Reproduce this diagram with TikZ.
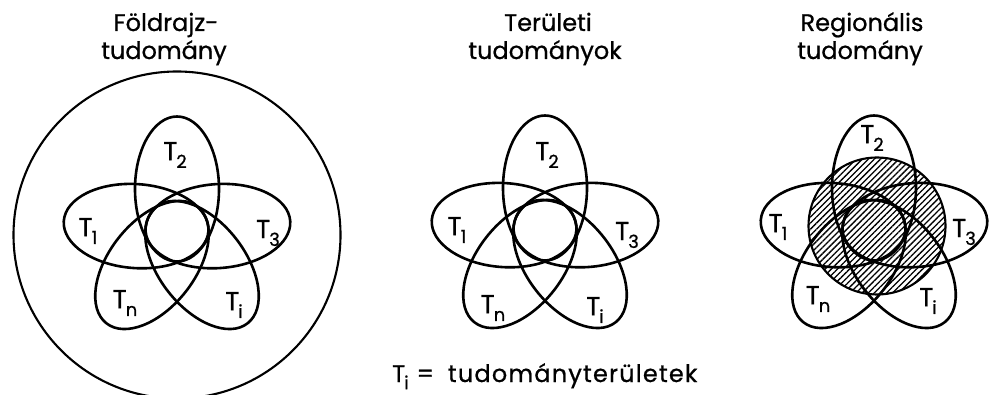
\documentclass[tikz,border=0pt]{standalone}
\usepackage{fontspec}
\setmainfont{Poppins}[FakeBold=0.8]
\newfontfamily\legfont{Poppins}[FakeBold=0.8,LetterSpace=5]
\usetikzlibrary{patterns.meta}
\newcommand\Tsub[1]{T\kern-1pt\raisebox{-0.30em}{\fontsize{18}{18}\selectfont #1}}
\begin{document}
\begin{tikzpicture}[x=1pt,y=-1pt,
  petal/.style={line width=2.6pt},
  ring/.style={line width=2.1pt},
  title/.style={font=\fontsize{24}{24}\selectfont, anchor=base, inner sep=0pt},
  lab/.style={font=\fontsize{26}{26}\selectfont, inner sep=0pt},
  hatch/.style={pattern={Lines[angle=45,distance=4.3pt,line width=1.3pt]}},
  flower/.pic={
    \draw[petal] (0,-40) ellipse [x radius=42, y radius=72.5];
    \draw[petal,rotate around={-4:(-40.9,-2.9)}] (-40.9,-2.9) ellipse [x radius=72.5, y radius=42];
    \draw[petal,rotate around={4:(40.9,-2.9)}] (40.9,-2.9) ellipse [x radius=72.5, y radius=42];
    \draw[petal,rotate around={-52:(25,36)}] (25,36) ellipse [x radius=74, y radius=43];
    \draw[petal,rotate around={52:(-25,36)}] (-25,36) ellipse [x radius=74, y radius=43];
  }]
\useasboundingbox (0,0) rectangle (993,395);
\fill[white] (0,0) rectangle (993,395);
\clip (0,0) rectangle (993,395);

% left panel
\draw[ring] (177,235) circle [radius=163.5];
\pic at (177,229) {flower};
% middle panel
\pic at (545,228) {flower};
% right panel
\fill[hatch] (877,226) circle [radius=68.5];
\draw[ring] (877,226) circle [radius=68.5];
\pic at (874,228) {flower};

% titles
\node[title] (t1a) at (166,31) {Földrajz-};
\node[title] (t1b) at (164,59) {tudomány};
\node[title] (t2a) at (548,31) {Területi};
\node[title] (t2b) at (545,59) {tudományok};
\node[title] (t3a) at (862,31) {Regionális};
\node[title] (t3b) at (860,59) {tudomány};

% labels left
\node[lab] (l2) at (175,155) {\Tsub{2}};
\node[lab] (l1) at (88,231) {\Tsub{1}};
\node[lab] (l3) at (268,233) {\Tsub{3}};
\node[lab] (ln) at (125,303) {\Tsub{n}};
\node[lab] (li) at (234,305) {\Tsub{i}};
% labels middle
\node[lab] (m2) at (547,155) {\Tsub{2}};
\node[lab] (m1) at (457,230) {\Tsub{1}};
\node[lab] (m3) at (627,235) {\Tsub{3}};
\node[lab] (mn) at (493,308) {\Tsub{n}};
\node[lab] (mi) at (595,310) {\Tsub{i}};
% labels right
\node[lab] (r2) at (872,138) {\Tsub{2}};
\node[lab] (r1) at (778,227) {\Tsub{1}};
\node[lab] (r3) at (964,232) {\Tsub{3}};
\node[lab] (rn) at (818,299) {\Tsub{n}};
\node[lab] (ri) at (928,301) {\Tsub{i}};

% legend
\node[font=\legfont\fontsize{24}{24}\selectfont, anchor=base west, inner sep=0pt] (leg) at (392,382) {\Tsub{i}\hspace{8pt}=\hspace{14pt}tudományterületek};
\end{tikzpicture}
\end{document}
